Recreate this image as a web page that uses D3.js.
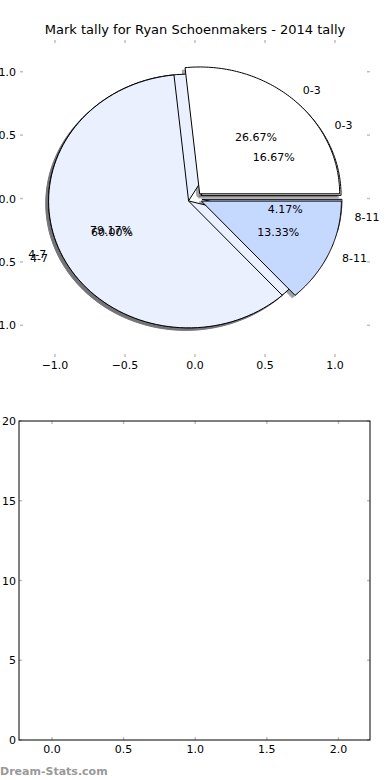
<!DOCTYPE html>
<html>
<head>
<meta charset="utf-8">
<script src="https://cdn.jsdelivr.net/npm/d3@7/dist/d3.min.js"></script>
<style>
  body { margin: 0; background: #fff; }
  text { font-family: "DejaVu Sans", sans-serif; }
</style>
</head>
<body>
<div id="graph"></div>
<script>
let width = 390;
let height = 780;

let title = "Mark tally for Ryan Schoenmakers - 2014 tally";
let categories = ["0-3", "4-7", "8-11"];
let tallyTop = [4, 9, 2];      // 26.67 / 60.00 / 13.33
let tallyUnder = [4, 19, 1];   // 16.67 / 79.17 / 4.17
let sliceColors = ["#ffffff", "#eaf0fe", "#c5d8fe"];
let pieTicks = [-1.0, -0.5, 0.0, 0.5, 1.0];
let barXTicks = [0.0, 0.5, 1.0, 1.5, 2.0];
let barYTicks = [0, 5, 10, 15, 20];

let explode = 0.05;
let tickColor = "#c0c0c0";

let svg = d3.select('#graph')
  .append('svg')
  .attr('width', width)
  .attr('height', height);

svg.append('text')
  .attr('x', 195).attr('y', 34)
  .attr('text-anchor', 'middle')
  .attr('font-size', 13)
  .text(title);

// ---- pie axes ----
let px = d3.scaleLinear().domain([-1.25, 1.25]).range([20, 370]);
let py = d3.scaleLinear().domain([-1.25, 1.25]).range([357, 40]);

let pieAxes = svg.append('g');
// ticks (no frame)
pieTicks.forEach(t => {
  pieAxes.append('line').attr('x1', px(t)).attr('x2', px(t)).attr('y1', 40).attr('y2', 43)
    .attr('stroke', tickColor).attr('stroke-width', 1.5);
  pieAxes.append('line').attr('x1', px(t)).attr('x2', px(t)).attr('y1', 354).attr('y2', 357)
    .attr('stroke', tickColor).attr('stroke-width', 1.5);
  pieAxes.append('line').attr('y1', py(t)).attr('y2', py(t)).attr('x1', 20).attr('x2', 23)
    .attr('stroke', tickColor).attr('stroke-width', 1.5);
  pieAxes.append('line').attr('y1', py(t)).attr('y2', py(t)).attr('x1', 367).attr('x2', 370)
    .attr('stroke', tickColor).attr('stroke-width', 1.5);
});
let fmt1 = d3.format(".1f");
pieAxes.selectAll('text.xt').data(pieTicks).enter().append('text')
  .attr('x', d => px(d)).attr('y', 369)
  .attr('text-anchor', 'middle').attr('font-size', 11)
  .text(d => fmt1(d));
pieAxes.selectAll('text.yt').data(pieTicks).enter().append('text')
  .attr('x', 16).attr('y', d => py(d) + 4)
  .attr('text-anchor', 'end').attr('font-size', 11)
  .text(d => fmt1(d));

let shadowLayer = svg.append('g');
let wedgeLayer = svg.append('g');
let textLayer = svg.append('g');

let line = d3.line().x(d => px(d[0])).y(d => py(d[1]));
let pct = d3.format(".2f");

var drawPie = function(counts) {
  let arcs = d3.pie().sort(null)(counts);
  let total = d3.sum(counts);
  arcs.forEach((a, i) => {
    let t1 = a.startAngle, t2 = a.endAngle, tm = (t1 + t2) / 2;
    let cx = explode * Math.cos(tm), cy = explode * Math.sin(tm);
    let pts = [[cx, cy]];
    let n = 90;
    for (let k = 0; k <= n; k++) {
      let t = t1 + (t2 - t1) * k / n;
      pts.push([cx + Math.cos(t), cy + Math.sin(t)]);
    }
    let c = d3.rgb(sliceColors[i]);
    let dark = d3.rgb(c.r * 0.3, c.g * 0.3, c.b * 0.3);
    shadowLayer.append('path')
      .attr('d', line(pts.map(p => [p[0] - 0.02, p[1] - 0.02])) + 'Z')
      .attr('fill', dark).attr('stroke', dark).attr('opacity', 0.5);
    wedgeLayer.append('path')
      .attr('d', line(pts) + 'Z')
      .attr('fill', sliceColors[i])
      .attr('stroke', '#000').attr('stroke-width', 1)
      .attr('stroke-linejoin', 'miter');

    let lx = cx + 1.1 * Math.cos(tm), ly = cy + 1.1 * Math.sin(tm);
    textLayer.append('text')
      .attr('x', px(lx)).attr('y', py(ly))
      .attr('dy', '0.35em')
      .attr('text-anchor', lx > 0 ? 'start' : 'end')
      .attr('font-size', 11)
      .text(categories[i]);
    let tx = cx + 0.6 * Math.cos(tm), ty = cy + 0.6 * Math.sin(tm);
    textLayer.append('text')
      .attr('x', px(tx)).attr('y', py(ty))
      .attr('dy', '0.35em')
      .attr('text-anchor', 'middle')
      .attr('font-size', 11)
      .text(pct(a.value / total * 100) + '%');
  });
};

drawPie(tallyUnder);
drawPie(tallyTop);

// ---- empty bar axes ----
let bx = d3.scaleLinear().domain([-0.23, 2.22]).range([19, 370]);
let by = d3.scaleLinear().domain([0, 20]).range([740, 421]);

let barAxes = svg.append('g');
barXTicks.forEach(t => {
  barAxes.append('line').attr('x1', bx(t)).attr('x2', bx(t)).attr('y1', 421).attr('y2', 424)
    .attr('stroke', tickColor).attr('stroke-width', 1.5);
  barAxes.append('line').attr('x1', bx(t)).attr('x2', bx(t)).attr('y1', 737).attr('y2', 740)
    .attr('stroke', tickColor).attr('stroke-width', 1.5);
});
barYTicks.forEach(t => {
  barAxes.append('line').attr('y1', by(t)).attr('y2', by(t)).attr('x1', 19).attr('x2', 22)
    .attr('stroke', tickColor).attr('stroke-width', 1.5);
  barAxes.append('line').attr('y1', by(t)).attr('y2', by(t)).attr('x1', 367).attr('x2', 370)
    .attr('stroke', tickColor).attr('stroke-width', 1.5);
});
barAxes.append('rect')
  .attr('x', 19).attr('y', 421).attr('width', 351).attr('height', 319)
  .attr('fill', 'none').attr('stroke', '#000').attr('stroke-width', 1);
barAxes.selectAll('text.xt').data(barXTicks).enter().append('text')
  .attr('x', d => bx(d)).attr('y', 753)
  .attr('text-anchor', 'middle').attr('font-size', 11)
  .text(d => fmt1(d));
barAxes.selectAll('text.yt').data(barYTicks).enter().append('text')
  .attr('x', 16).attr('y', d => by(d) + 4)
  .attr('text-anchor', 'end').attr('font-size', 11)
  .text(d => d);

svg.append('text')
  .attr('x', 0).attr('y', 775)
  .attr('font-size', 11).attr('font-weight', 600)
  .attr('fill', '#999')
  .text('Dream-Stats.com');
</script>
</body>
</html>
